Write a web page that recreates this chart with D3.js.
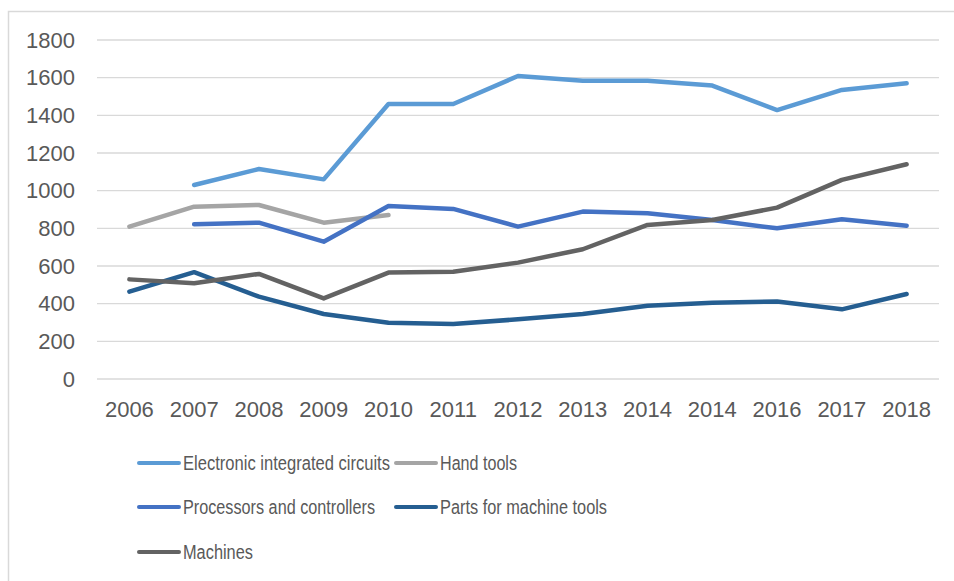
<!DOCTYPE html>
<html>
<head>
<meta charset="utf-8">
<script src="https://cdn.jsdelivr.net/npm/d3@7"></script>
<style>
	body { margin: 0; background: #fff; }
	svg { display: block; }
	.tick-label { font-family: "Liberation Sans", Arial, sans-serif; font-size: 22px; fill: #595959; }
	.legend-label { font-family: "Liberation Sans", Arial, sans-serif; font-size: 20px; fill: #595959; }
</style>
</head>
<body>
<script>
var years = ['2006', '2007', '2008', '2009', '2010', '2011', '2012', '2013', '2014', '2014', '2016', '2017', '2018'];
var yTicks = [0, 200, 400, 600, 800, 1000, 1200, 1400, 1600, 1800];

var circuits = [null, 1030, 1115, 1060, 1460, 1460, 1609, 1584, 1584, 1558, 1428, 1535, 1570];
var handTools = [809, 915, 924, 830, 871, null, null, null, null, null, null, null, null];
var processors = [null, 822, 830, 729, 919, 903, 809, 889, 880, 844, 800, 848, 814];
var parts = [464, 567, 437, 345, 299, 292, 317, 345, 389, 405, 411, 370, 451];
var machines = [529, 508, 558, 428, 565, 570, 618, 689, 818, 844, 910, 1057, 1140];

var seriesNames = ['Electronic integrated circuits', 'Hand tools', 'Processors and controllers', 'Parts for machine tools', 'Machines'];
var seriesColors = ['#5b9bd5', '#a5a5a5', '#4472c4', '#255e91', '#636363'];
var seriesValues = [circuits, handTools, processors, parts, machines];

var width = 954, height = 581;
var plotLeft = 97, plotRight = 939, plotTop = 40, plotBottom = 379;

var svg = d3.select('body').append('svg')
	.attr('width', width)
	.attr('height', height);

// chart frame (runs off the right and bottom edges in the original)
svg.append('rect')
	.attr('x', 8.5).attr('y', 11.5)
	.attr('width', 980).attr('height', 620)
	.attr('fill', '#fff')
	.attr('stroke', '#d9d9d9')
	.attr('stroke-width', 1.5);

var x = d3.scaleBand()
	.domain(d3.range(years.length))
	.range([plotLeft, plotRight]);

var y = d3.scaleLinear()
	.domain([0, 1800])
	.range([plotBottom, plotTop]);

// gridlines
svg.append('g').selectAll('line').data(yTicks).enter().append('line')
	.attr('x1', plotLeft).attr('x2', plotRight)
	.attr('y1', function (d) { return y(d); })
	.attr('y2', function (d) { return y(d); })
	.attr('stroke', '#d9d9d9')
	.attr('stroke-width', 1.3);

// y axis labels
var yAxis = d3.axisLeft(y).tickValues(yTicks).tickFormat(d3.format('d')).tickSize(0).tickPadding(0);
var yAxisEl = svg.append('g')
	.attr('transform', 'translate(75,0)')
	.call(yAxis);
yAxisEl.select('.domain').remove();
yAxisEl.selectAll('text').attr('class', 'tick-label').attr('fill', null).attr('font-size', null).attr('font-family', null);

// x axis labels
var xAxis = d3.axisBottom(x).tickFormat(function (i) { return years[i]; }).tickSize(0).tickPadding(0);
var xAxisEl = svg.append('g')
	.attr('transform', 'translate(0,' + 401 + ')')
	.call(xAxis);
xAxisEl.select('.domain').remove();
xAxisEl.selectAll('text').attr('class', 'tick-label').attr('fill', null).attr('font-size', null).attr('font-family', null);

// series lines
var line = d3.line()
	.defined(function (d) { return d != null; })
	.x(function (d, i) { return x(i) + x.bandwidth() / 2; })
	.y(function (d) { return y(d); });

svg.append('g').selectAll('path').data(seriesValues).enter().append('path')
	.attr('d', line)
	.attr('fill', 'none')
	.attr('stroke', function (d, i) { return seriesColors[i]; })
	.attr('stroke-width', 4.5)
	.attr('stroke-linejoin', 'round')
	.attr('stroke-linecap', 'round');

// legend - the original font is narrow, so squeeze labels to its widths
var legendPos = [[138, 463], [395, 463], [138, 507], [395, 507], [138, 552]];
var legendWidths = [207, 77, 192, 167, 70];
var legendEl = svg.append('g').selectAll('g').data(seriesNames).enter().append('g')
	.attr('transform', function (d, i) { return 'translate(' + legendPos[i][0] + ',' + legendPos[i][1] + ')'; });
legendEl.append('line')
	.attr('x1', 1).attr('x2', 41)
	.attr('stroke', function (d, i) { return seriesColors[i]; })
	.attr('stroke-width', 4)
	.attr('stroke-linecap', 'round');
legendEl.append('text')
	.attr('class', 'legend-label')
	.attr('x', 45)
	.attr('dy', '0.35em')
	.attr('textLength', function (d, i) { return legendWidths[i]; })
	.attr('lengthAdjust', 'spacingAndGlyphs')
	.text(function (d) { return d; });
</script>
</body>
</html>
